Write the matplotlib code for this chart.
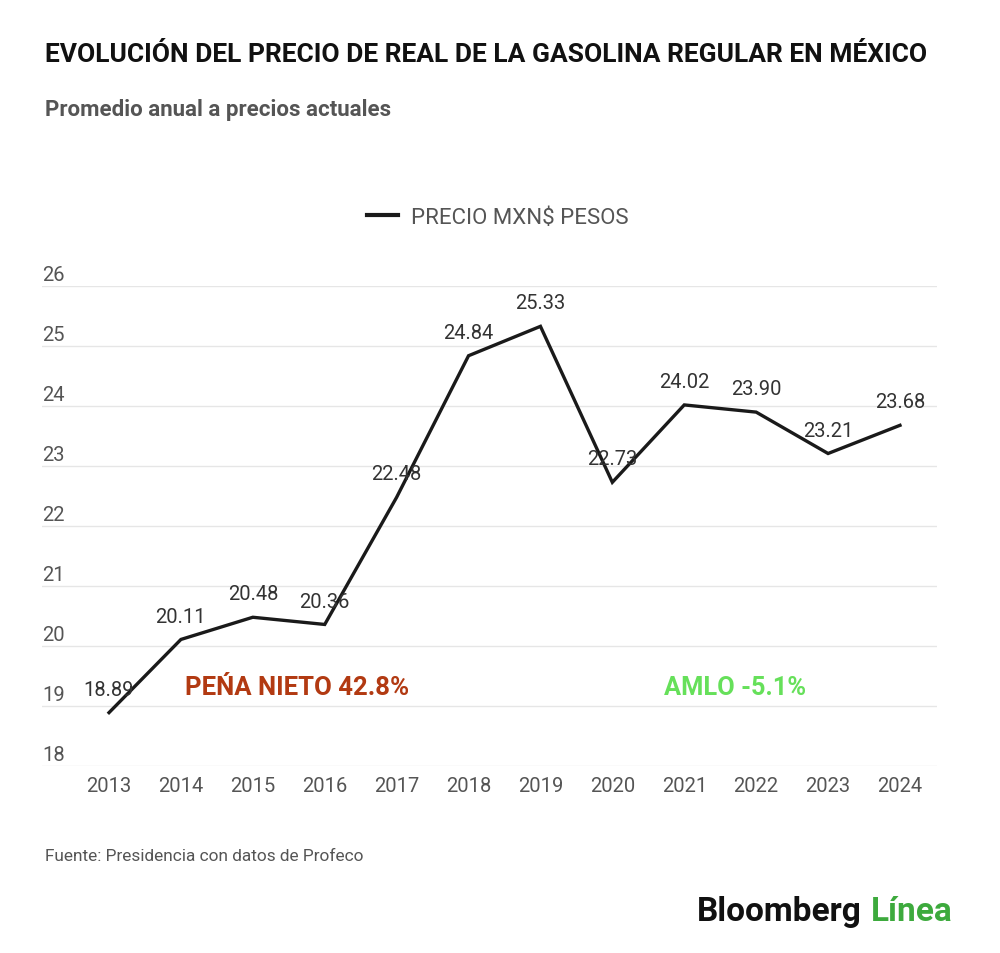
import matplotlib
matplotlib.use("Agg")
import matplotlib.pyplot as plt
from matplotlib.lines import Line2D

years = [2013, 2014, 2015, 2016, 2017, 2018, 2019, 2020, 2021, 2022, 2023, 2024]
prices = [18.89, 20.11, 20.48, 20.36, 22.48, 24.84, 25.33, 22.73, 24.02, 23.90, 23.21, 23.68]
y_ticks = [18, 19, 20, 21, 22, 23, 24, 25, 26]
series_name = "PRECIO MXN$ PESOS"
title = "EVOLUCIÓN DEL PRECIO DE REAL DE LA GASOLINA REGULAR EN MÉXICO"
subtitle = "Promedio anual a precios actuales"
source = "Fuente: Presidencia con datos de Profeco"
ann_pn = "PEŃA NIETO 42.8%"
ann_amlo = "AMLO -5.1%"

plt.rcParams['font.family'] = ['Roboto', 'DejaVu Sans']

fig = plt.figure(figsize=(10, 9.54), dpi=100)
fig.patch.set_facecolor('white')
ax = fig.add_axes([0.042, 0.196, 0.895, 0.503])

ax.plot(years, prices, color='#1a1a1a', lw=2.4, solid_joinstyle='miter', zorder=3)
ax.set_xlim(2012.068, 2024.515)
ax.set_ylim(18, 26)
ax.set_yticks(y_ticks)
ax.yaxis.grid(True, color='#e6e6e6', lw=1)
ax.set_axisbelow(True)
for s in ax.spines.values():
    s.set_visible(False)
ax.tick_params(axis='both', length=0)
ax.set_yticklabels([])
for t in y_ticks:
    ax.annotate(str(t), xy=(0, t), xycoords=('axes fraction', 'data'),
                xytext=(0, 1.5), textcoords='offset points',
                ha='left', va='bottom', fontsize=14.5, color='#555555')
ax.set_xticks(years)
ax.set_xticklabels([str(y) for y in years], fontsize=14.5, color='#555555')
ax.tick_params(axis='x', pad=7)

for x, v in zip(years, prices):
    ax.annotate(f"{v:.2f}", xy=(x, v), xytext=(0, 10), textcoords='offset points',
                ha='center', va='bottom', fontsize=14.5, color='#333333', zorder=4)

ax.text(2015.61, 19.32, ann_pn, fontsize=18.5, fontweight='bold', color='#B23A12',
        ha='center', va='center')
ax.text(2021.70, 19.32, ann_amlo, fontsize=18.3, fontweight='bold', color='#66E05A',
        ha='center', va='center')

handle = Line2D([0], [0], color='#1a1a1a', lw=3)
fig.legend([handle], [series_name], loc='center', bbox_to_anchor=(0.498, 1 - 218/954),
           frameon=False, fontsize=16, handlelength=1.4, handletextpad=0.6,
           labelcolor='#555555')

fig.text(0.045, 1 - 55/954, title, fontsize=19, fontweight='bold', color='#111111',
         ha='left', va='center', fontstretch='condensed')
fig.text(0.045, 1 - 110/954, subtitle, fontsize=16, fontweight='bold', color='#555555',
         ha='left', va='center')
fig.text(0.045, 1 - 857/954, source, fontsize=12.4, color='#555555', ha='left', va='center')

t1 = fig.text(0.697, 1 - 912/954, "Bloomberg", fontsize=24, fontweight='bold',
              color='#111111', ha='left', va='center')
fig.canvas.draw()
bb = t1.get_window_extent()
fig.text((bb.x1 + 9) / fig.bbox.width, 1 - 912/954, "Línea", fontsize=24,
         fontweight='bold', color='#3DAA3D', ha='left', va='center')

fig.savefig('out.png', dpi=100, facecolor='white')
